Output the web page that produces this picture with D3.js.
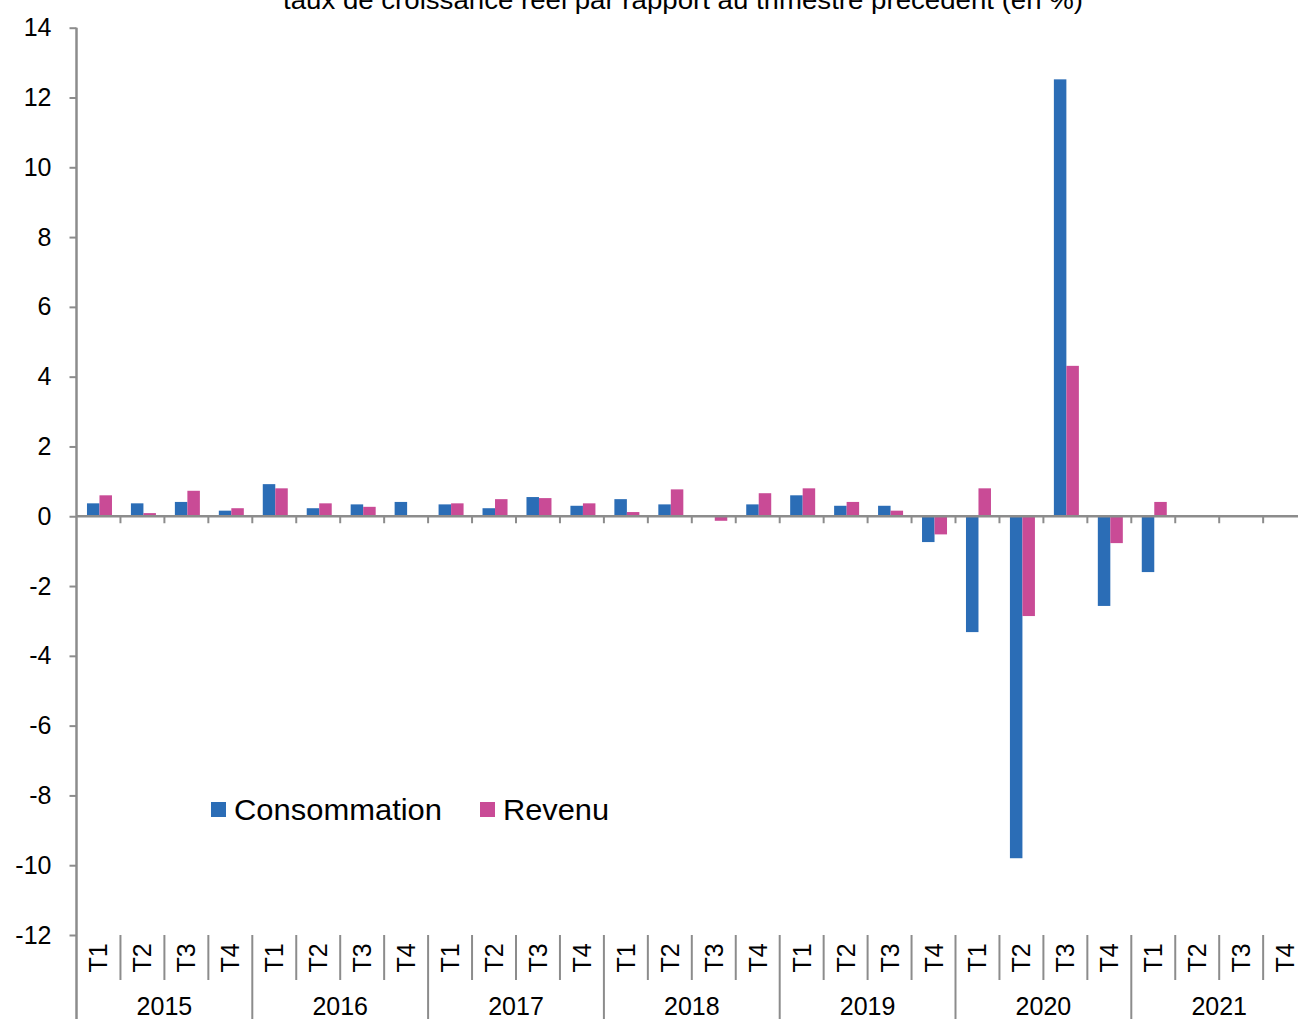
<!DOCTYPE html>
<html>
<head>
<meta charset="utf-8">
<script src="https://cdn.jsdelivr.net/npm/d3@7"></script>
<style>
  html, body { margin: 0; padding: 0; background: #fff; }
  svg { display: block; font-family: "Liberation Sans", Arial, sans-serif; }
</style>
</head>
<body>
<svg id="chart" width="1298" height="1019"></svg>
<script>
const title = "taux de croissance réel par rapport au trimestre précédent (en %)";
const years = ["2015", "2016", "2017", "2018", "2019", "2020", "2021"];
const quarters = ["T1", "T2", "T3", "T4"];
const seriesNames = ["Consommation", "Revenu"];
const consommation = [0.37, 0.37, 0.41, 0.16, 0.92, 0.23, 0.34, 0.41, 0.34, 0.23, 0.55, 0.30,
  0.49, 0.34, 0, 0.34, 0.60, 0.30, 0.30, -0.74, -3.32, -9.80, 12.52, -2.57, -1.60, null, null, null];
const revenu = [0.60, 0.09, 0.73, 0.23, 0.80, 0.37, 0.27, 0, 0.37, 0.49, 0.52, 0.37,
  0.12, 0.77, -0.13, 0.66, 0.80, 0.41, 0.16, -0.52, 0.80, -2.86, 4.31, -0.77, 0.41, null, null, null];
const yTicks = [-12, -10, -8, -6, -4, -2, 0, 2, 4, 6, 8, 10, 12, 14];
const colors = ["#2B6DB6", "#C94B96"];

const svg = d3.select("#chart");
const axisColor = "#8c8c8c";

const cats = [];
years.forEach(y => quarters.forEach(q => cats.push({ year: y, q: q })));
const idx = cats.map((d, i) => i);

const left = 76.5, step = 43.95;
const x = d3.scaleBand().domain(idx).range([left, left + step * cats.length]).paddingInner(0).paddingOuter(0);
const y = d3.scaleLinear().domain([-12, 14]).range([935, 27.7]);
const sub = d3.scaleBand().domain([0, 1]).range([0, 25]);
const groupOffset = (x.bandwidth() - 25) / 2 + 1;

// Title (partially cut at top, as in the reference)
svg.append("text")
  .attr("x", 683).attr("y", 9)
  .attr("text-anchor", "middle")
  .attr("font-size", 26)
  .attr("textLength", 800).attr("lengthAdjust", "spacingAndGlyphs")
  .attr("fill", "#000")
  .text(title);

// Bars
const data = [consommation, revenu];
data.forEach((vals, s) => {
  svg.append("g").selectAll("rect")
    .data(vals.map((v, i) => ({ v, i })).filter(d => d.v !== null && d.v !== 0))
    .join("rect")
    .attr("x", d => x(d.i) + groupOffset + sub(s))
    .attr("width", sub.bandwidth())
    .attr("y", d => Math.min(y(d.v), y(0)))
    .attr("height", d => Math.abs(y(d.v) - y(0)))
    .attr("fill", colors[s]);
});

// Zero axis line with ticks
const zeroY = y(0);
svg.append("line")
  .attr("x1", left).attr("x2", 1298)
  .attr("y1", zeroY).attr("y2", zeroY)
  .attr("stroke", axisColor).attr("stroke-width", 2.5);
svg.append("g").selectAll("line")
  .data(d3.range(1, cats.length + 1))
  .join("line")
  .attr("x1", i => left + i * step).attr("x2", i => left + i * step)
  .attr("y1", zeroY).attr("y2", zeroY + 7)
  .attr("stroke", axisColor).attr("stroke-width", 2);

// Y axis
const yAxis = d3.axisLeft(y).tickValues(yTicks).tickSize(7).tickPadding(18).tickFormat(d => String(d));
const gy = svg.append("g").attr("transform", `translate(${left},0)`).call(yAxis);
gy.select(".domain").remove();
gy.selectAll(".tick line").attr("stroke", axisColor).attr("stroke-width", 2);
gy.selectAll(".tick text").attr("font-size", 25).attr("fill", "#000")
  .attr("font-family", "Liberation Sans, Arial, sans-serif");
svg.append("line")
  .attr("x1", left).attr("x2", left)
  .attr("y1", y(14)).attr("y2", 1019)
  .attr("stroke", axisColor).attr("stroke-width", 2.5);

// Category labels: quarter separators and labels
svg.append("g").selectAll("line")
  .data(d3.range(1, cats.length + 1).filter(i => i % 4 !== 0))
  .join("line")
  .attr("x1", i => left + i * step).attr("x2", i => left + i * step)
  .attr("y1", 935).attr("y2", 980)
  .attr("stroke", axisColor).attr("stroke-width", 2);
svg.append("g").selectAll("line")
  .data(d3.range(4, cats.length + 1, 4))
  .join("line")
  .attr("x1", i => left + i * step).attr("x2", i => left + i * step)
  .attr("y1", 935).attr("y2", 1019)
  .attr("stroke", axisColor).attr("stroke-width", 2);

svg.append("g").selectAll("text")
  .data(idx)
  .join("text")
  .attr("transform", i => `translate(${x(i) + x.bandwidth() / 2 + 9},958) rotate(-90)`)
  .attr("text-anchor", "middle")
  .attr("font-size", 25)
  .attr("fill", "#000")
  .text(i => cats[i].q);

svg.append("g").selectAll("text")
  .data(years)
  .join("text")
  .attr("x", (d, k) => left + (k * 4 + 2) * step)
  .attr("y", 1015)
  .attr("text-anchor", "middle")
  .attr("font-size", 25)
  .attr("fill", "#000")
  .text(d => d);

// Legend
const legendItems = [
  { name: seriesNames[0], color: colors[0], x: 211, w: 208 },
  { name: seriesNames[1], color: colors[1], x: 480, w: 106 }
];
const lg = svg.append("g");
legendItems.forEach(it => {
  lg.append("rect").attr("x", it.x).attr("y", 802).attr("width", 15).attr("height", 15).attr("fill", it.color);
  lg.append("text").attr("x", it.x + 23).attr("y", 820)
    .attr("font-size", 29).attr("fill", "#000")
    .attr("textLength", it.w).attr("lengthAdjust", "spacingAndGlyphs")
    .text(it.name);
});
</script>
</body>
</html>
